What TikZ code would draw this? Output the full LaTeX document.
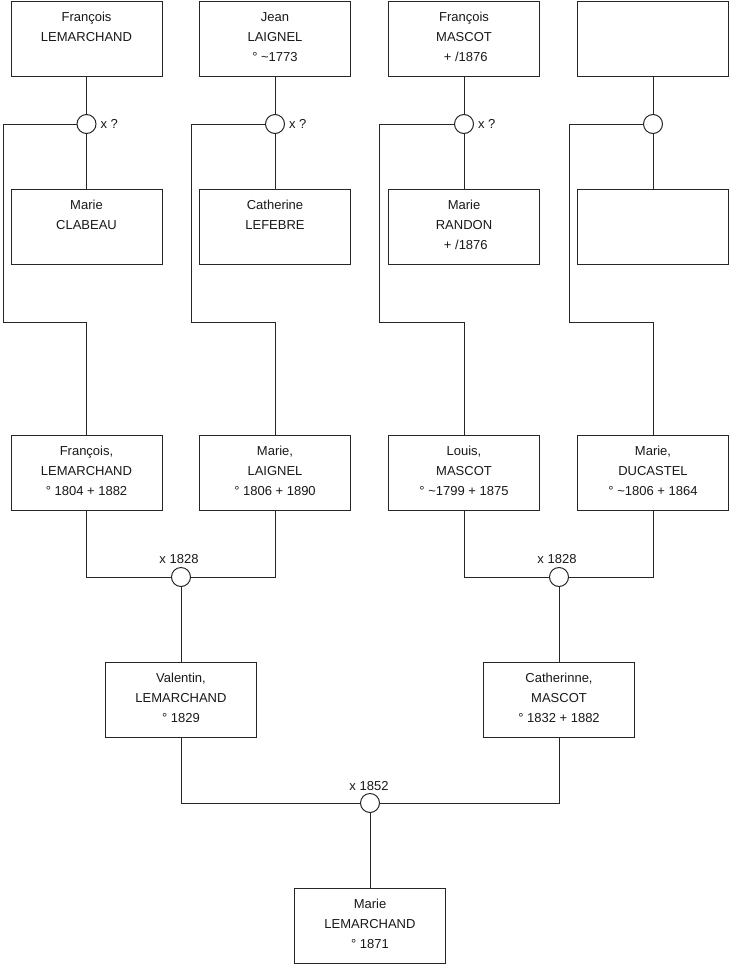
\documentclass[tikz,border=0pt]{standalone}
\usepackage{fontspec}
\setmainfont{Liberation Sans}
\begin{document}
\begin{tikzpicture}[x=1pt,y=-1pt,
  line width=1pt,
  pbox/.style={draw=black!85, fill=white, rectangle, minimum width=151pt, minimum height=75pt, inner sep=0pt},
  ptext/.style={anchor=north, align=center, inner sep=0pt, font=\fontsize{13}{20}\selectfont, text=black!90},
  union/.style={draw=black!85, fill=white, circle, minimum size=19pt, inner sep=0pt},
  ulabel/.style={inner sep=0pt, font=\fontsize{13}{15}\selectfont, text=black!90},
  conn/.style={draw=black!85, line width=1pt}]
\useasboundingbox (0,0) rectangle (740,975);

\newcommand\personbox[4]{%
  \node[pbox] (#1) at (#2,#3) {};
  \node[ptext] (#1t) at ([yshift=-6pt]#1.north) {\strut #4};}

% top row
\personbox{a1}{86.5}{38.5}{François\\LEMARCHAND}
\personbox{a2}{275}{38.5}{Jean\\LAIGNEL\\ ° \textasciitilde1773}
\personbox{a3}{464}{38.5}{François\\MASCOT\\ \ + /1876}
\node[pbox] (a4) at (653,38.5) {};

% second row
\personbox{b1}{86.5}{227}{Marie\\CLABEAU}
\personbox{b2}{275}{227}{Catherine\\LEFEBRE}
\personbox{b3}{464}{227}{Marie\\RANDON\\ \ + /1876}
\node[pbox] (b4) at (653,227) {};

% third row
\personbox{m1}{86.5}{472.5}{François,\\LEMARCHAND\\° 1804 + 1882}
\personbox{m2}{275}{472.5}{Marie,\\LAIGNEL\\ ° 1806 + 1890}
\personbox{m3}{464}{472.5}{Louis,\\MASCOT\\° \textasciitilde1799 + 1875}
\personbox{m4}{653}{472.5}{Marie,\\DUCASTEL\\ ° \textasciitilde1806 + 1864}

% fourth row
\personbox{v}{181}{699.5}{Valentin,\\LEMARCHAND\\° 1829}
\personbox{c}{559}{699.5}{Catherinne,\\MASCOT\\° 1832 + 1882}

% bottom
\personbox{z}{370}{926}{Marie\\LEMARCHAND\\° 1871}

% union circles
\node[union] (u1) at (86.5,124) {};
\node[union] (u2) at (275,124) {};
\node[union] (u3) at (464,124) {};
\node[union] (u4) at (653,124) {};
\node[union] (u5) at (181,577) {};
\node[union] (u6) at (559,577) {};
\node[union] (u7) at (370,803) {};

\node[ulabel, anchor=west] (l1) at ([xshift=3.5pt]u1.east) {x ?};
\node[ulabel, anchor=west] (l2) at ([xshift=3.5pt]u2.east) {x ?};
\node[ulabel, anchor=west] (l3) at ([xshift=3.5pt]u3.east) {x ?};
\node[ulabel, anchor=base] (l5) at (179,563) {x 1828};
\node[ulabel, anchor=base] (l6) at (557,563) {x 1828};
\node[ulabel, anchor=base] (l7) at (369,790) {x 1852};

% corner coordinates
\coordinate (k1) at (3,322);
\coordinate (k2) at (191,322);
\coordinate (k3) at (379,322);
\coordinate (k4) at (569,322);

% connectors
\foreach \i in {1,2,3,4}{
  \draw[conn] (a\i.south) -- (u\i.north);
  \draw[conn] (u\i.south) -- (b\i.north);
  \draw[conn] (u\i.west) -| (k\i) -| (m\i.north);
}
\draw[conn] (m1.south) |- (u5.west);
\draw[conn] (m2.south) |- (u5.east);
\draw[conn] (u5.south) -- (v.north);
\draw[conn] (m3.south) |- (u6.west);
\draw[conn] (m4.south) |- (u6.east);
\draw[conn] (u6.south) -- (c.north);
\draw[conn] (v.south) |- (u7.west);
\draw[conn] (c.south) |- (u7.east);
\draw[conn] (u7.south) -- (z.north);
\end{tikzpicture}
\end{document}
